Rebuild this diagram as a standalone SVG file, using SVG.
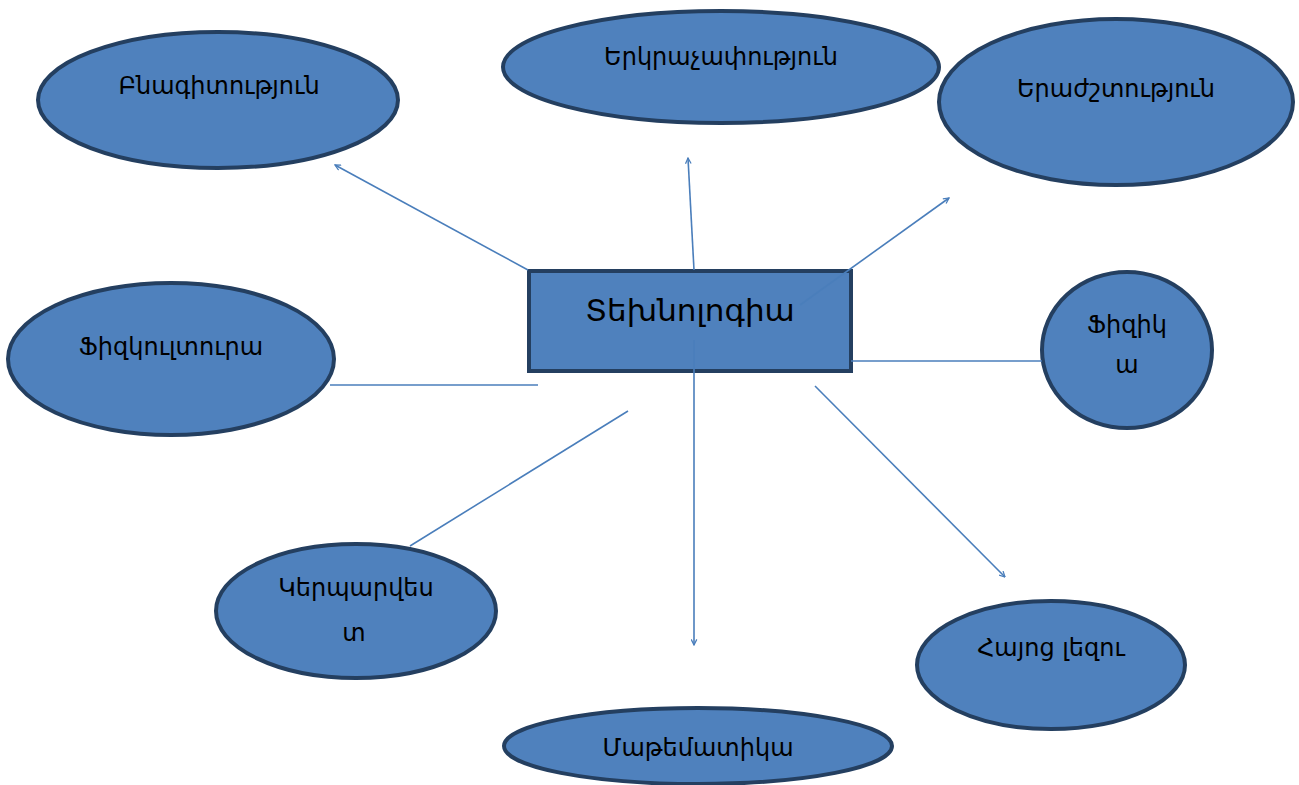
<svg xmlns="http://www.w3.org/2000/svg" width="1299" height="785" viewBox="0 0 1299 785">
<style>
.n{fill:#4F81BD;stroke:#243F60;stroke-width:4}
.t{font-family:"DejaVu Sans","Noto Sans",sans-serif;font-size:24px;fill:#000;text-anchor:middle}
.c{stroke:#4A7EBB;stroke-width:1.6;fill:none}
</style>
<defs>
<marker id="a" viewBox="0 0 10 10" refX="9" refY="5" markerWidth="7" markerHeight="7" orient="auto" markerUnits="userSpaceOnUse">
<path d="M1,1 L9,5 L1,9" fill="none" stroke="#4A7EBB" stroke-width="1.8"/>
</marker>
</defs>
<rect width="1299" height="785" fill="#fff"/>
<g id="n1"><ellipse class="n" cx="218" cy="100" rx="180" ry="68"/><text class="t" x="219" y="94">Բնագիտություն</text></g>
<g id="n2"><ellipse class="n" cx="721" cy="67" rx="218" ry="56"/><text class="t" x="721" y="65">Երկրաչափություն</text></g>
<g id="n3"><ellipse class="n" cx="1116" cy="102" rx="177" ry="83"/><text class="t" x="1116" y="97">Երաժշտություն</text></g>
<g id="n4"><ellipse class="n" cx="171" cy="359" rx="163" ry="76"/><text class="t" x="171" y="355">Ֆիզկուլտուրա</text></g>
<g id="n5"><ellipse class="n" cx="1127" cy="350" rx="85" ry="78"/><text class="t" x="1127" y="333">Ֆիզիկ</text><text class="t" x="1127" y="373">ա</text></g>
<g id="n6"><ellipse class="n" cx="356" cy="611" rx="140" ry="67"/><text class="t" x="356" y="596">Կերպարվես</text><text class="t" x="354" y="641">տ</text></g>
<g id="n7"><ellipse class="n" cx="698" cy="746" rx="194" ry="38"/><text class="t" x="698" y="756">Մաթեմատիկա</text></g>
<g id="n8"><ellipse class="n" cx="1051" cy="665" rx="134" ry="64"/><text class="t" x="1051" y="656">Հայոց լեզու</text></g>
<g id="center"><rect class="n" x="529" y="271" width="322" height="100"/><text class="t" x="690" y="321" style="font-size:31px">Տեխնոլոգիա</text></g>
<g id="connectors">
<line class="c" x1="528" y1="270" x2="335" y2="165" marker-end="url(#a)"/>
<line class="c" x1="694" y1="270" x2="688" y2="158" marker-end="url(#a)"/>
<line class="c" x1="800" y1="305" x2="949" y2="198" marker-end="url(#a)"/>
<line class="c" x1="851" y1="361" x2="1042" y2="361"/>
<line class="c" x1="330" y1="385" x2="538" y2="385"/>
<line class="c" x1="628" y1="411" x2="410" y2="546"/>
<line class="c" x1="815" y1="386" x2="1005" y2="577" marker-end="url(#a)"/>
<line class="c" x1="694" y1="340" x2="694" y2="645" marker-end="url(#a)"/>
</g>
</svg>
